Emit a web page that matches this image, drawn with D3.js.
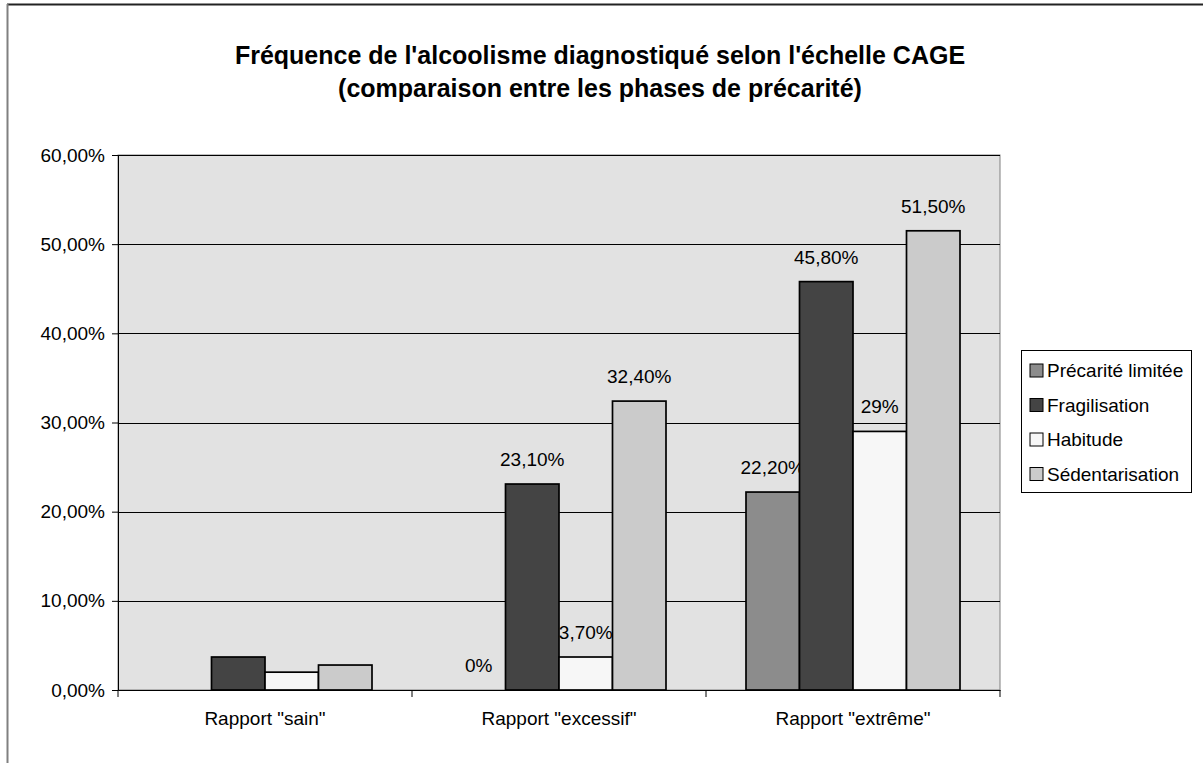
<!DOCTYPE html>
<html>
<head>
<meta charset="utf-8">
<script src="https://cdn.jsdelivr.net/npm/d3@7"></script>
<style>
  body { margin: 0; background: #fff; }
  svg text { font-family: "Liberation Sans", Arial, sans-serif; fill: #000; }
</style>
</head>
<body>
<script>
// data
const categories = ['Rapport "sain"', 'Rapport "excessif"', 'Rapport "extrême"'];
const series = ["Précarité limitée", "Fragilisation", "Habitude", "Sédentarisation"];
const precarite = [0, 0, 22.2];
const fragilisation = [3.7, 23.1, 45.8];
const habitude = [2.0, 3.7, 29];
const sedentarisation = [2.8, 32.4, 51.5];
// labels as printed on the chart (none for the first group)
const labPrecarite = [null, "0%", "22,20%"];
const labFragilisation = [null, "23,10%", "45,80%"];
const labHabitude = [null, "3,70%", "29%"];
const labSedentarisation = [null, "32,40%", "51,50%"];
const yTicks = [0, 10, 20, 30, 40, 50, 60];
const colors = ["#8c8c8c", "#444444", "#f7f7f7", "#cbcbcb"];

const values = [precarite, fragilisation, habitude, sedentarisation];
const labels = [labPrecarite, labFragilisation, labHabitude, labSedentarisation];

const w = 1203, h = 763;
const pLeft = 118, pRight = 1000, pTop = 155, pBottom = 690;

const svg = d3.select("body").append("svg")
  .attr("width", w).attr("height", h);

// outer chart frame
svg.append("line").attr("x1", 7).attr("x2", w).attr("y1", 4.5).attr("y2", 4.5)
  .attr("stroke", "#222").attr("stroke-width", 2);
svg.append("line").attr("x1", 7.5).attr("x2", 7.5).attr("y1", 4).attr("y2", h)
  .attr("stroke", "#808080").attr("stroke-width", 2);

const x = d3.scaleBand().domain(categories).range([pLeft, pRight]);
const xs = d3.scaleBand().domain(series).range([40, x.bandwidth() - 40]);
const y = d3.scaleLinear().domain([0, 60]).range([pBottom, pTop]);

// plot area
svg.append("rect")
  .attr("x", pLeft).attr("y", pTop)
  .attr("width", pRight - pLeft).attr("height", pBottom - pTop)
  .attr("fill", "#e2e2e2").attr("stroke", "#808080");

svg.selectAll(".grid").data(yTicks.slice(1)).enter().append("line")
  .attr("x1", pLeft).attr("x2", pRight)
  .attr("y1", d => Math.round(y(d)) + 0.5).attr("y2", d => Math.round(y(d)) + 0.5)
  .attr("stroke", "#000");

const fr = d3.formatLocale({ decimal: ",", thousands: " ", grouping: [3], currency: ["", " €"] });
const fmt = fr.format(".2f");

// bars
series.forEach((s, si) => {
  svg.selectAll(".bar" + si).data(values[si]).enter().append("rect")
    .attr("x", (d, i) => x(categories[i]) + xs(s))
    .attr("y", d => y(d))
    .attr("width", xs.bandwidth())
    .attr("height", d => y(0) - y(d))
    .attr("fill", colors[si])
    .attr("stroke", "#000")
    .attr("stroke-width", d => d > 0 ? 1.7 : 0);

  const pts = values[si].map((v, i) => ({ v, i, lab: labels[si][i] })).filter(p => p.lab !== null);
  svg.selectAll(".lab" + si).data(pts).enter().append("text")
    .attr("x", p => x(categories[p.i]) + xs(s) + xs.bandwidth() / 2)
    .attr("y", p => y(p.v) - 18)
    .attr("text-anchor", "middle")
    .style("font-size", "19px")
    .text(p => p.lab);
});

// y axis
const yAxis = d3.axisLeft(y).tickValues(yTicks).tickSize(6).tickPadding(7)
  .tickFormat(d => fmt(d) + "%");
const gy = svg.append("g").attr("transform", `translate(${pLeft},0)`).call(yAxis);
gy.selectAll("text").style("font-size", "19px");
gy.selectAll("line, path").attr("stroke", "#000");

// x axis
const gx = svg.append("g").attr("transform", `translate(0,${pBottom})`)
  .call(d3.axisBottom(x).tickSize(0).tickPadding(22));
gx.selectAll("text").style("font-size", "19px");
gx.select(".domain").attr("stroke", "#000");
svg.selectAll(".xtick").data(d3.range(categories.length + 1)).enter().append("line")
  .attr("x1", i => pLeft + i * x.bandwidth()).attr("x2", i => pLeft + i * x.bandwidth())
  .attr("y1", pBottom).attr("y2", pBottom + 7)
  .attr("stroke", "#000");

// title
const title = svg.append("text").attr("text-anchor", "middle")
  .style("font-size", "25px").style("font-weight", "bold");
title.append("tspan").attr("x", 600).attr("y", 64)
  .text("Fréquence de l'alcoolisme diagnostiqué selon l'échelle CAGE");
title.append("tspan").attr("x", 600).attr("y", 97)
  .text("(comparaison entre les phases de précarité)");

// legend
const lg = svg.append("g");
lg.append("rect").attr("x", 1021.5).attr("y", 350.5).attr("width", 170).attr("height", 142)
  .attr("fill", "#fff").attr("stroke", "#000");
const items = lg.selectAll(".item").data(series).enter().append("g")
  .attr("transform", (d, i) => `translate(1030,${370 + i * 34.5})`);
items.append("rect").attr("x", 0).attr("y", -6).attr("width", 13).attr("height", 13)
  .attr("fill", (d, i) => colors[i]).attr("stroke", "#000");
items.append("text").attr("x", 17).attr("y", 7).style("font-size", "19px").text(d => d);
</script>
</body>
</html>
